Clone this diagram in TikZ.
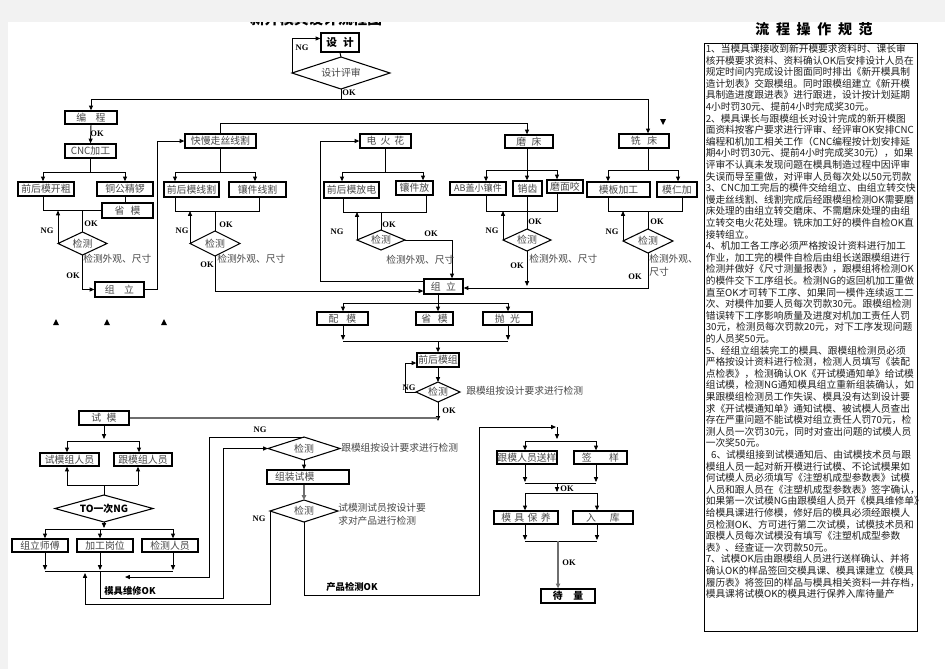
\documentclass[tikz,border=0pt]{standalone}
\usepackage{fontspec}
\setmainfont{Noto Sans CJK SC}
\newfontfamily\okf{Liberation Serif}
\usetikzlibrary{arrows.meta}
\definecolor{bgc}{HTML}{F2F2F2}
\definecolor{txg}{HTML}{474747}
\definecolor{lng}{HTML}{6E6E6E}
\tikzset{
  nbox/.style={draw=black, line width=0.95pt, inner sep=0pt, text=txg, font=\fontsize{7.4}{8}\selectfont},
  bline/.style={draw=black, line width=0.8pt},
  dtext/.style={inner sep=0pt, text=txg, font=\fontsize{7.4}{8}\selectfont},
  lbl/.style={inner sep=0pt, anchor=west, text=txg, font=\fontsize{7.3}{8}\selectfont},
  okl/.style={inner sep=0pt, font=\okf\bfseries\fontsize{6.4}{7}\selectfont},
  bld/.style={inner sep=0pt, font=\bfseries\fontsize{7}{8}\selectfont},
  ln/.style={draw=black, line width=0.7pt},
  ar/.style={ln, -{Triangle[length=3.6pt,width=3pt]}},
  thk/.style={draw=lng, line width=1.3pt, -{Triangle[length=3.6pt,width=3.2pt]}},
}
\newcommand\mybox[6]{\node[nbox, minimum width={(#4-#2)*0.75pt}, minimum height={(#5-#3)*0.75pt}] (#1) at ({(#2+#4)/2},{(#3+#5)/2}) {#6};}
\newcommand\mydiam[6]{%
  \coordinate (#1-l) at (#2,{(#4+#5)/2});
  \coordinate (#1-r) at (#3,{(#4+#5)/2});
  \coordinate (#1-t) at ({(#2+#3)/2},#4);
  \coordinate (#1-b) at ({(#2+#3)/2},#5);
  \draw[bline] (#1-l) -- (#1-t) -- (#1-r) -- (#1-b) -- cycle;
  \node[dtext] (#1) at ({(#2+#3)/2},{(#4+#5)/2}) {#6};}
\begin{document}
\begin{tikzpicture}[x=0.75pt,y=-0.75pt]
\useasboundingbox (0,0) rectangle (945,669);
\fill[bgc] (0,0) rectangle (945,669);
\fill[white] (8,22) rectangle (945,669);
\begin{scope}
\clip (8,22) rectangle (945,669);
\node[inner sep=0pt, anchor=base, font=\bfseries\fontsize{11}{12}\selectfont] (title) at (316,24.5) {新开模具设计流程图};
\end{scope}

% ---------- right text ----------
\node[inner sep=0pt, font=\bfseries\fontsize{10.5}{12}\selectfont] (rt) at (814,29) {流\hspace{5pt}程\hspace{5pt}操\hspace{5pt}作\hspace{5pt}规\hspace{5pt}范};
\node[draw=black, line width=1pt, anchor=north west, minimum width={213*0.75pt}, minimum height={588*0.75pt}, inner sep=0pt] (rbox) at (704,43) {};
\node[anchor=north west, inner sep=0pt, align=left, text=black!88, font=\fontsize{7.3}{8.7}\selectfont] (rules) at (705.5,44) {%
1、当模具课接收到新开模要求资料时、课长审\\
核开模要求资料、资料确认OK后安排设计人员在\\
规定时间内完成设计图面同时排出《新开模具制\\
造计划表》交跟模组。同时跟模组建立《新开模\\
具制造进度跟进表》进行跟进，设计按计划延期\\
4小时罚30元、提前4小时完成奖30元。\\
2、模具课长与跟模组长对设计完成的新开模图\\
面资料按客户要求进行评审、经评审OK安排CNC\\
编程和机加工相关工作（CNC编程按计划安排延\\
期4小时罚30元、提前4小时完成奖30元），如果\\
评审不认真未发现问题在模具制造过程中因评审\\
失误而导至重做，对评审人员每次处以50元罚款\\
3、CNC加工完后的模件交给组立、由组立转交快\\
慢走丝线割、线割完成后经跟模组检测OK需要磨\\
床处理的由组立转交磨床、不需磨床处理的由组\\
立转交电火花处理。铣床加工好的模件自检OK直\\
接转组立。\\
4、机加工各工序必须严格按设计资料进行加工\\
作业，加工完的模件自检后由组长送跟模组进行\\
检测并做好《尺寸测量报表》，跟模组将检测OK\\
的模件交下工序组长。检测NG的返回机加工重做\\
直至OK才可转下工序、如果同一模件连续返工二\\
次、对模件加要人员每次罚款30元。跟模组检测\\
错误转下工序影响质量及进度对机加工责任人罚\\
30元，检测员每次罚款20元，对下工序发现问题\\
的人员奖50元。\\
5、经组立组装完工的模具、跟模组检测员必须\\
严格按设计资料进行检测，检测人员填写《装配\\
点检表》，检测确认OK《开试模通知单》给试模\\
组试模，检测NG通知模具组立重新组装确认，如\\
果跟模组检测员工作失误、模具没有达到设计要\\
求《开试模通知单》通知试模、被试模人员查出\\
存在严重问题不能试模对组立责任人罚70元，检\\
测人员一次罚30元，同时对查出问题的试模人员\\
一次奖50元。\\
\hspace*{4pt}6、试模组接到试模通知后、由试模技术员与跟\\
模组人员一起对新开模进行试模、不论试模果如\\
何试模人员必须填写《注塑机成型参数表》试模\\
人员和跟人员在《注塑机成型参数表》签字确认，\\
如果第一次试模NG由跟模组人员开《模具维修单》\\
给模具课进行修模，修好后的模具必须经跟模人\\
员检测OK、方可进行第二次试模，试模技术员和\\
跟模人员每次试模没有填写《注塑机成型参数\\
表》、经查证一次罚款50元。\\
7、试模OK后由跟模组人员进行送样确认、并将\\
确认OK的样品签回交模具课、模具课建立《模具\\
履历表》将签回的样品与模具相关资料一并存档，\\
模具课将试模OK的模具进行保养入库待量产};

% ---------- nodes ----------
\mybox{sj}{321}{33}{359}{52}{\bfseries\color{black}\fontsize{8}{9}\selectfont 设\hspace{4.5pt}计}
\mydiam{psj}{292}{390}{57}{89}{设计评审}

\mybox{bc}{65}{111}{117}{124}{编\hspace{7pt}程}
\mybox{cnc}{65}{144}{116}{158}{CNC加工}
\mybox{kc}{18}{182}{74}{196}{前后模开粗}
\mybox{tg}{97}{182}{153}{196}{铜公精锣}
\mybox{sm1}{102}{203}{153}{218}{省\hspace{4.5pt}模}
\mydiam{jc1}{58}{107}{232}{255}{检测}
\mybox{zl1}{95}{282}{144}{297}{组\hspace{7pt}立}

\mybox{ks}{185}{134}{256}{148}{快慢走丝线割}
\mybox{qx}{164}{182}{219}{197}{前后模线割}
\mybox{xx}{229}{182}{286}{197}{镶件线割}
\mydiam{jc2}{190}{240}{231}{256}{检测}

\mybox{dh}{360}{134}{411}{148}{电\hspace{3pt}火\hspace{3pt}花}
\mybox{qf}{324}{182}{379}{198}{前后模放电}
\mybox{xf}{396}{181}{433}{195}{镶件放}
\mydiam{jc3}{357}{405}{230}{250}{检测}

\mybox{mc}{505}{135}{553}{148}{磨\hspace{4pt}床}
\mybox{ab}{450}{182}{506}{195}{\fontsize{6.8}{7}\selectfont AB盖小镶件}
\mybox{xz}{513}{181}{542}{196}{销齿}
\mybox{mm}{547}{180}{583}{193}{磨面咬}
\mydiam{jc4}{503}{551}{229}{251}{检测}

\mybox{xc}{619}{134}{669}{148}{铣\hspace{5pt}床}
\mybox{mb}{587}{182}{650}{197}{模板加工}
\mybox{mr}{657}{182}{697}{197}{模仁加}
\mydiam{jc5}{623}{673}{229}{253}{检测}

\mybox{zl2}{424}{279}{463}{294}{组\hspace{4pt}立}
\mybox{pm}{317}{312}{368}{325}{配\hspace{6pt}模}
\mybox{sm2}{416}{312}{453}{325}{省\hspace{5pt}模}
\mybox{pg}{483}{312}{532}{325}{抛\hspace{4pt}光}
\mybox{qm}{417}{353}{459}{367}{前后模组}
\mydiam{jc6}{416}{460}{382}{402}{检测}

\mybox{sm}{79}{411}{129}{425}{试\hspace{4pt}模}
\mybox{smr}{40}{453}{99}{466}{试模组人员}
\mybox{gmr}{114}{453}{172}{466}{跟模组人员}
\mydiam{jto}{55}{153}{495}{522}{\bfseries\color{black}TO一次NG}
\mybox{zs}{12}{539}{68}{552}{组立师傅}
\mybox{jg}{77}{539}{133}{552}{加工岗位}
\mybox{jr}{142}{539}{198}{552}{检测人员}

\mydiam{jc7}{268}{340}{437}{460}{检测}
\node[nbox, minimum height=10.5pt, text width=49.5pt, inner xsep=6pt, align=left] (zz) at (308,477) {组装试模};
\mydiam{jc8}{270}{338}{500}{522}{检测}

\mybox{gs}{497}{451}{557}{464}{跟模人员送样}
\mybox{qy}{574}{451}{627}{464}{签\hspace{13pt}样}
\mybox{mb2}{494}{511}{558}{524}{模\hspace{2.5pt}具\hspace{2.5pt}保\hspace{2.5pt}养}
\mybox{rk}{573}{511}{633}{524}{入\hspace{10.5pt}库}
\mybox{dl}{541}{589}{595}{603}{\bfseries\color{black}待\hspace{8pt}量}

% ---------- top connectors ----------
\draw[ln] (sj.south) -- (psj-t);
\draw[ar] (psj-l) |- ([yshift=3pt]sj.west);
\node[okl] at (302,48) {NG};
\coordinate (j0) at (341,99);
\draw[ln] (psj-b) -- (j0);
\node[okl] at (349,93) {OK};
\draw[ar] (j0) -| (bc.north);
\draw[ar] (j0) -| (648,0 |- xc.north);
\fill (660,119) -- (666,119) -- (663,125) -- cycle;

% column 1
\draw[ar] (bc.south) -- (cnc.north);
\node[okl] at (97,134) {OK};
\draw[ln] (cnc.south) -- (cnc.south |- 0,172);
\draw[ln] (43,172) -- (125,172);
\draw[ar] (43,172) -- (43,0 |- kc.north);
\draw[ar] (125,172) -- (125,0 |- tg.north);
\draw[ln] (125,0 |- tg.south) -- (125,0 |- sm1.north);
\draw[ln] (43,0 |- kc.south) |- (sm1.west);
\draw[ln] (jc1-t) -- (jc1-t |- sm1.west);
\draw[ar] (jc1-l) -- (jc1-l |- sm1.west);
\draw[ar] (jc1-b) |- (zl1.west);
\draw[ar] (zl1.east) -- ++(13,0) |- (ks.west);
\node[okl] at (91,224) {OK};
\node[okl] at (47,231) {NG};
\node[okl] at (73,276) {OK};
\node[lbl] at (83,259) {检测外观、尺寸};
\foreach \x in {56,107,164} \fill (\x-3,325) -- (\x+3,325) -- (\x,319) -- cycle;

% column 2
\draw[ar] (ks.north) -- (ks.north |- 0,123) -| (527,0 |- mc.north);
\draw[ln] (ks.south) -- (ks.south |- 0,172);
\draw[ln] (175,172) -- (255,172);
\draw[ar] (175,172) -- (175,0 |- qx.north);
\draw[ar] (255,172) -- (255,0 |- xx.north);
\draw[ln] (175,0 |- qx.south) -- (175,211) -- (259,211) -- (259,0 |- xx.south);
\draw[ln] (jc2-t) -- (jc2-t |- 0,211);
\draw[ar] (jc2-l) -- (jc2-l |- 0,211);
\draw[ar] (jc2-b) |- (zl2.west |- 0,291);
\node[okl] at (226,225) {OK};
\node[okl] at (182,231) {NG};
\node[okl] at (207,265) {OK};
\node[lbl] at (217,259) {检测外观、尺寸};

% column 3
\draw[ar] (zl2.west |- 0,281) -- (320,281) -- (320,0 |- dh.west) -- (dh.west);
\draw[ln] (dh.south) -- (dh.south |- 0,172);
\draw[ln] (342,172) -- (423,172);
\draw[ar] (342,172) -- (342,0 |- qf.north);
\draw[ar] (423,172) -- (423,0 |- xf.north);
\draw[ln] (343,0 |- qf.south) -- (343,212) -- (426,212) -- (426,0 |- xf.south);
\draw[ln] (jc3-t) -- (jc3-t |- 0,212);
\draw[ar] (jc3-l) -- (jc3-l |- 0,212);
\draw[ar] (jc3-r) -- (452,0 |- jc3-r) -- (452,0 |- zl2.north);
\node[okl] at (389,225) {OK};
\node[okl] at (337,232) {NG};
\node[okl] at (431,234) {OK};
\node[lbl] at (386,260) {检测外观、尺寸};

% column 4
\draw[ar] (527,0 |- mc.south) -- (527,0 |- xz.north);
\draw[ln] (486,170) -- (557,170);
\draw[ar] (486,170) -- (486,0 |- ab.north);
\draw[ar] (557,170) -- (557,0 |- mm.north);
\draw[ln] (486,0 |- ab.south) -- (486,211) -- (557,211) -- (557,0 |- mm.south);
\draw[ln] (527,0 |- xz.south) -- (jc4-t);
\draw[ar] (jc4-l) -- (jc4-l |- 0,211);
\draw[ar] (jc4-b) -- (527,286);
\node[okl] at (535,222) {OK};
\node[okl] at (492,231) {NG};
\node[okl] at (517,266) {OK};
\node[lbl] at (529,259) {检测外观、尺寸};

% column 5
\draw[ln] (648,0 |- xc.south) -- (648,170);
\draw[ln] (608,170) -- (678,170);
\draw[ar] (608,170) -- (608,0 |- mb.north);
\draw[ar] (678,170) -- (678,0 |- mr.north);
\draw[ln] (608,0 |- mb.south) -- (608,211) -- (682,211) -- (682,0 |- mr.south);
\draw[ln] (648,211) -- (jc5-t);
\draw[ar] (jc5-l) -- (jc5-l |- 0,211);
\draw[ar] (jc5-b) -- (648,288) -- (zl2.east |- 0,288);
\node[okl] at (657,222) {OK};
\node[okl] at (612,232) {NG};
\node[okl] at (635,277) {OK};
\node[lbl] at (649,259) {检测外观、};
\node[lbl] at (649,272) {尺寸};

% ---------- middle ----------
\draw[ln] (438,0 |- zl2.south) -- (438,303);
\draw[ln] (343,303) -- (508,303);
\draw[ar] (343,303) -- (343,0 |- pm.north);
\draw[ar] (438,303) -- (438,0 |- sm2.north);
\draw[ar] (508,303) -- (508,0 |- pg.north);
\draw[ar] (343,0 |- pm.south) -- (343,340);
\draw[ar] (508,0 |- pg.south) -- (508,340);
\draw[ln] (343,341) -- (508,341);
\draw[ar] (438,341) -- (438,0 |- qm.north);
\draw[ar] (438,0 |- qm.south) -- (jc6-t);
\draw[ar] (jc6-l) -- (405,0 |- jc6-l) -- (405,363) -- (qm.west |- 0,363);
\draw[ar] (jc6-b) -- (438,421);
\draw[draw=lng, line width=0.9pt] (438,418) -- (sm.east);
\node[okl] at (409,388) {NG};
\node[okl] at (449,411) {OK};
\node[lbl] at (466,391) {跟模组按设计要求进行检测};

% ---------- bottom left ----------
\draw[ar] (104,0 |- sm.south) -- (104,439);
\draw[ln] (67,441) -- (139,441);
\draw[ar] (67,441) -- (67,0 |- smr.north);
\draw[ar] (139,441) -- (139,0 |- gmr.north);
\draw[ln] (67,485) -- (138,485);
\draw[ar] (67,485) -- (67,0 |- smr.south);
\draw[ar] (138,485) -- (138,0 |- gmr.south);
\draw[ln] (104,485) -- (jto-t);
\draw[ar] (jto-b) -- (104,528);
\draw[ln] (45,529) -- (173,529);
\draw[ar] (45,529) -- (45,0 |- zs.north);
\draw[ar] (100,529) -- (100,0 |- jg.north);
\draw[ar] (173,529) -- (173,0 |- jr.north);
\draw[ar] (45,0 |- zs.south) -- (45,570);
\draw[ar] (100,0 |- jg.south) -- (100,570);
\draw[ar] (173,0 |- jr.south) -- (173,570);
\draw[ln] (45,571) -- (173,571);
\draw[ar] (100,571) -- (100,598) -- (223,598) -- (223,0 |- jc7-l) -- (jc7-l);
\draw[ar] (jc7-t) -- (209,0 |- jc7-t) -- (209,577) -- (125,577);
\draw[ar] (304,0 |- jc7-b) -- (304,0 |- zz.north);
\draw[thk] (304,0 |- zz.south) -- (jc8-t);
\draw[ar] (jc8-l) -- (270,604) -- (85,604) -- (85,573);
\draw[ar] (jc8-b) -- (304,595) -- (479,595) -- (479,427) -- (556,427);
\draw[ar] (557,427) -- (557,439);
\node[okl] at (260,430) {NG};
\node[okl] at (259,519) {NG};
\node[lbl] at (341,448) {跟模组按设计要求进行检测};
\node[lbl] at (338,508) {试模测试员按设计要};
\node[lbl] at (338,521) {求对产品进行检测};
\node[bld] at (130,591) {模具维修OK};
\node[bld] at (352,587) {产品检测OK};

% ---------- bottom right ----------
\draw[ln] (525,441) -- (596,441);
\draw[ar] (525,441) -- (525,0 |- gs.north);
\draw[ar] (596,441) -- (596,0 |- qy.north);
\draw[ar] (525,0 |- gs.south) -- (525,482);
\draw[ar] (596,0 |- qy.south) -- (596,482);
\draw[ln] (525,483) -- (596,483);
\draw[ar] (557,483) -- (557,492);
\draw[ln] (525,493) -- (597,493);
\draw[ar] (525,493) -- (525,0 |- mb2.north);
\draw[ar] (597,493) -- (597,0 |- rk.north);
\draw[ar] (525,0 |- mb2.south) -- (525,540);
\draw[ar] (597,0 |- rk.south) -- (597,540);
\draw[ln] (525,541) -- (597,541);
\draw[thk] (558,541) -- (558,0 |- dl.north);
\node[okl] at (567,489) {OK};
\node[okl] at (569,563) {OK};
\end{tikzpicture}
\end{document}
